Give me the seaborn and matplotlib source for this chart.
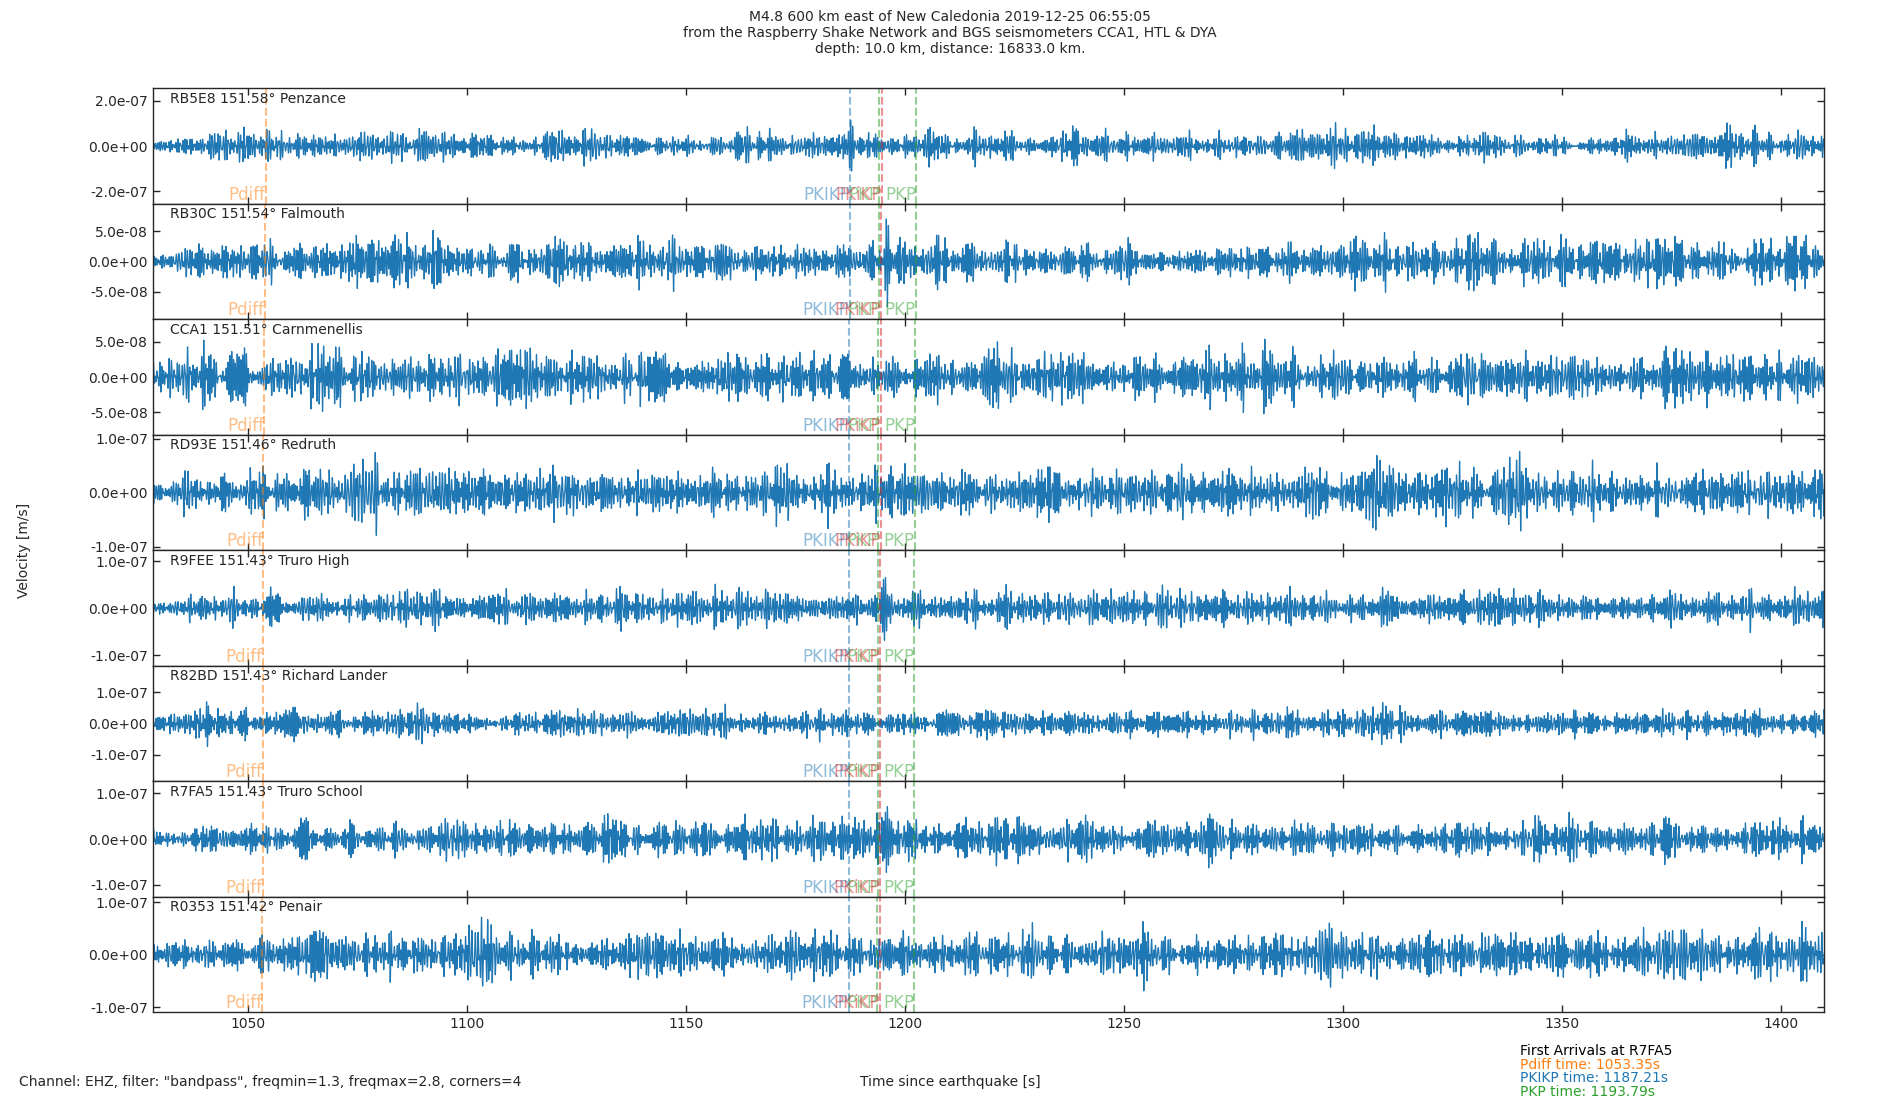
import numpy as np
import pandas as pd
import matplotlib
matplotlib.use("Agg")
import matplotlib.pyplot as plt
import seaborn as sns
from matplotlib.ticker import FormatStrFormatter, MultipleLocator

# stations, top to bottom
stations = ["RB5E8", "RB30C", "CCA1", "RD93E", "R9FEE", "R82BD", "R7FA5", "R0353"]
distances = [151.58, 151.54, 151.51, 151.46, 151.43, 151.43, 151.43, 151.42]
places = ["Penzance", "Falmouth", "Carnmenellis", "Redruth", "Truro High",
          "Richard Lander", "Truro School", "Penair"]

# arrival times per station [s]
pdiff_t = [1054.04, 1053.86, 1053.72, 1053.49, 1053.35, 1053.35, 1053.35, 1053.30]
pkikp_t = [1187.50, 1187.42, 1187.36, 1187.27, 1187.21, 1187.21, 1187.21, 1187.19]
pkp_t = [1194.17, 1194.07, 1193.99, 1193.87, 1193.79, 1193.79, 1193.79, 1193.76]
pkikp2_t = [1194.70, 1194.60, 1194.55, 1194.45, 1194.40, 1194.40, 1194.40, 1194.38]
pkp2_t = [1202.60, 1202.50, 1202.40, 1202.30, 1202.20, 1202.20, 1202.20, 1202.15]
phase_names = ["Pdiff", "PKIKP", "PKP", "PKiKP", "PKP"]
phase_cols = ["C1", "C0", "C2", "C3", "C2"]

# amplitude envelope, every 10 s from 1030 to 1410 s [1e-8 m/s]
env_time = np.arange(1030, 1411, 10)
env_rb5e8 = [4, 6, 11, 6, 7, 10, 7, 7, 6, 7, 8, 6, 6, 7, 8, 7, 7, 6, 10, 6, 6, 9, 7, 7, 6, 6,
             11, 9, 9, 7, 6, 6, 6, 6, 7, 9, 9, 8, 6]
env_rb30c = [2, 3.5, 4, 3.5, 4, 5, 6, 4, 4, 4, 4, 4.5, 5, 4, 3.5, 3, 3.5, 4, 3.5, 3.5, 3.5,
             3.5, 3.5, 3, 3, 3.5, 3.5, 5, 4, 4, 4.5, 4.5, 4, 4.5, 4.5, 4, 4, 5.5, 4]
env_cca1 = [3, 5, 3.5, 4, 5, 4.5, 4, 4.5, 5.5, 4.5, 4, 4.5, 4, 4, 3.5, 4, 4, 3.5, 4.5, 4.5,
            4.5, 4, 3.5, 3.5, 4, 5.5, 4, 4, 4, 3.5, 3.5, 4.5, 4, 4, 4.5, 4, 4, 4.5, 3.5]
env_rd93e = [3.5, 4.5, 5, 5.5, 6, 6.5, 5.5, 6, 5, 5, 4.5, 5, 4.5, 5, 5, 5, 6, 5.5, 5, 4.5,
             6.5, 5, 5, 5.5, 5, 4, 4.5, 5.5, 6, 5, 6, 6.5, 6, 5, 5, 5, 5.5, 5, 6.5]
env_r9fee = [2.5, 3.5, 4, 3.5, 3.5, 3.5, 6, 4, 4, 4, 4.5, 4.5, 4.5, 4.5, 4, 3.5, 3.5, 4.5, 5,
             4.5, 4, 4, 4.5, 5, 5, 4, 4, 4, 4.5, 4.5, 4.5, 4, 3.5, 3.5, 4, 4.5, 4, 4, 4]
env_r82bd = [4, 7, 5, 4.5, 5, 5, 7, 5, 5, 6, 6, 5, 6, 5.5, 4.5, 5, 5, 5, 5, 5, 5, 5, 5, 5, 6,
             5, 7, 5, 7, 5, 5, 4.5, 5, 5, 5, 5, 6, 5, 5]
env_r7fa5 = [2.5, 3.5, 4, 4, 4.5, 5, 5, 5.5, 4.5, 4.5, 4.5, 5, 4.5, 5, 4.5, 5, 5.5, 5, 5.5, 5,
             5, 6.5, 4.5, 4.5, 5.5, 4.5, 4.5, 4.5, 4, 4.5, 4.5, 4.5, 6.5, 4.5, 4.5, 4.5, 4.5, 5, 5]
env_r0353 = [2.5, 3.5, 4, 5, 5, 5, 5.5, 7, 5, 5, 5, 5, 5, 5, 5, 5, 5.5, 5.5, 5, 5, 5, 5.5, 5,
             5, 5, 5, 5, 7, 5, 5, 5, 5.5, 5, 5, 5.5, 5.5, 6, 6, 6]
envelopes = [env_rb5e8, env_rb30c, env_cca1, env_rd93e, env_r9fee, env_r82bd, env_r7fa5, env_r0353]

# short arrival bursts on top of the noise
burst_time = [1187.6, 1195.8, 1195.8, 1196.8, 1195.6, 1195.8, 1195.6, 1196.2]
burst_amp = [8, 5, 0, 3, 7, 2, 6, 4]

# axis limits / ticks per panel
y_half = [2.56e-7, 9.5e-8, 8.2e-8, 1.07e-7, 1.23e-7, 1.85e-7, 1.26e-7, 1.1e-7]
y_step = [2e-7, 5e-8, 5e-8, 1e-7, 1e-7, 1e-7, 1e-7, 1e-7]
t_start, t_end = 1028.3, 1410.0

t = np.arange(t_start, t_end, 0.02)

# primes used to spread the carrier frequencies irregularly over the passband
sieve = np.ones(6000, dtype=bool)
sieve[:2] = False
for k in range(2, 78):
    if sieve[k]:
        sieve[k * k::k] = False
primes = np.nonzero(sieve)[0]
n_comp = 60


def make_trace(j):
    # carrier confined to the 1.3-2.8 Hz passband, scaled by the envelope
    p = primes[j * n_comp:(j + 1) * n_comp].astype(float)
    f = 1.3 + 1.5 * (np.sqrt(p) % 1.0)
    ph = 2 * np.pi * (np.cbrt(p) % 1.0)
    carrier = np.zeros_like(t)
    for fi, pi in zip(f, ph):
        carrier += np.sin(2 * np.pi * fi * (t - t_start) + pi)
    carrier /= np.sqrt(n_comp / 2) * 2.9
    env = np.interp(t, env_time, envelopes[j])
    burst = burst_amp[j] * np.exp(-((t - burst_time[j]) / 1.0) ** 2) * \
        np.cos(2 * np.pi * 2.2 * (t - burst_time[j]))
    return (env * carrier + burst) * 1e-8


sns.set_style("ticks")
plt.rcParams['font.family'] = ['DejaVu Sans']

fig, axes = plt.subplots(8, 1, sharex=True, figsize=(19, 11), dpi=100)
fig.subplots_adjust(left=0.0805, right=0.9602, top=0.9197, bottom=0.0797, hspace=0)

for j, ax in enumerate(axes):
    df = pd.DataFrame({"time": t, "vel": make_trace(j)})
    sns.lineplot(data=df, x="time", y="vel", ax=ax, color="C0", linewidth=0.9,
                 estimator=None, sort=False)
    arrivals = [pdiff_t[j], pkikp_t[j], pkp_t[j], pkikp2_t[j], pkp2_t[j]]
    for name, tt, col in zip(phase_names, arrivals, phase_cols):
        ax.axvline(tt, color=col, linestyle="--", linewidth=1.5, alpha=0.5)
        ax.text(tt, -y_half[j], name, color=col, alpha=0.5, fontsize=12,
                ha="right", va="bottom")
    ax.text(0.01, 0.97, f"{stations[j]} {distances[j]:.2f}° {places[j]}",
            transform=ax.transAxes, fontsize=10, va="top", ha="left")
    ax.set_ylim(-y_half[j], y_half[j])
    ax.yaxis.set_major_locator(MultipleLocator(y_step[j]))
    ax.yaxis.set_major_formatter(FormatStrFormatter("%.1e"))
    ax.set_xlim(t_start, t_end)
    ax.xaxis.set_major_locator(MultipleLocator(50))
    ax.tick_params(direction="in", top=True, right=True, labelsize=10, length=5, width=1)
    ax.set_xlabel("")
    ax.set_ylabel("")
    for sp in ax.spines.values():
        sp.set_visible(True)
        sp.set_linewidth(1.0)

fig.suptitle("M4.8 600 km east of New Caledonia 2019-12-25 06:55:05\n"
             "from the Raspberry Shake Network and BGS seismometers CCA1, HTL & DYA\n"
             "depth: 10.0 km, distance: 16833.0 km.",
             x=0.5, y=0.97, va="center", fontsize=10)

fig.text(0.009, 0.5, "Velocity [m/s]", rotation=90, va="center", ha="left", fontsize=10)
fig.text(0.5, 0.0167, "Time since earthquake [s]", ha="center", va="center", fontsize=10)
fig.text(0.0100, 0.0167, 'Channel: EHZ, filter: "bandpass", freqmin=1.3, freqmax=2.8, corners=4',
         ha="left", va="center", fontsize=10)

fig.text(0.8, 1 - 1051 / 1100, "First Arrivals at R7FA5", ha="left", va="center",
         fontsize=10, color="black")
fig.text(0.8, 1 - 1065 / 1100, "Pdiff time: 1053.35s", ha="left", va="center",
         fontsize=10, color="C1")
fig.text(0.8, 1 - 1078 / 1100, "PKIKP time: 1187.21s", ha="left", va="center",
         fontsize=10, color="C0")
fig.text(0.8, 1 - 1092 / 1100, "PKP time: 1193.79s", ha="left", va="center",
         fontsize=10, color="C2")

fig.savefig("out.png", dpi=100)
